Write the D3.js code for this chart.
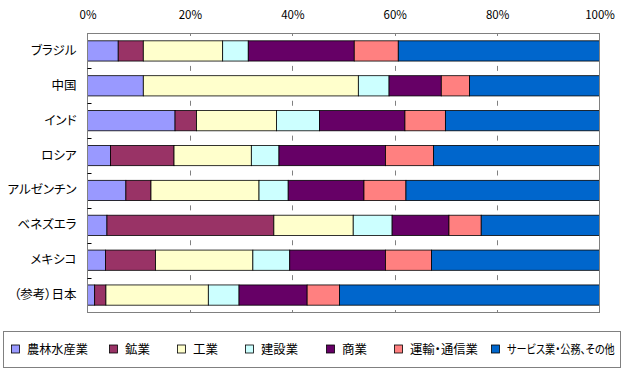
<!DOCTYPE html>
<html>
<head>
<meta charset="utf-8">
<script src="https://cdn.jsdelivr.net/npm/d3@7/dist/d3.min.js"></script>
<style>
  html, body { margin: 0; padding: 0; background: #fff; }
  svg { display: block; }
  text { font-family: "Noto Sans CJK JP", "Noto Sans", sans-serif; fill: #000; font-feature-settings: "palt" 1; }
</style>
</head>
<body>
<svg id="chart" width="624" height="372"></svg>
<script>
// ---- data ----
const categories = ["ブラジル", "中国", "インド", "ロシア", "アルゼンチン", "ベネズエラ", "メキシコ", "（参考）日本"];
const seriesNames = ["農林水産業", "鉱業", "工業", "建設業", "商業", "運輸・通信業", "サービス業・公務、その他"];
const seriesColors = ["#9999FF", "#993366", "#FFFFCC", "#CCFFFF", "#660066", "#FF8080", "#0066CC"];
const agriculture   = [6.0, 10.9, 17.1, 4.5, 7.5, 3.8, 3.5, 1.4];
const mining        = [4.9, 0.0, 4.2, 12.4, 4.9, 32.6, 9.8, 2.2];
const manufacturing = [15.5, 42.0, 15.6, 15.1, 21.1, 15.5, 19.0, 20.0];
const construction  = [5.0, 6.0, 8.4, 5.4, 5.7, 7.6, 7.2, 6.0];
const commerce      = [20.7, 10.2, 16.7, 20.8, 14.8, 11.1, 18.7, 13.3];
const transport     = [8.6, 5.5, 7.9, 9.4, 8.2, 6.3, 9.0, 6.3];
const services      = [39.3, 25.4, 30.1, 32.4, 37.8, 23.1, 32.8, 50.8];
const tickValues = [0, 0.2, 0.4, 0.6, 0.8, 1.0];

const seriesValues = [agriculture, mining, manufacturing, construction, commerce, transport, services];

// ---- layout ----
const svg = d3.select("#chart");
const plot = { left: 87.5, right: 599.5, top: 33.5, bottom: 312.5 };

const rows = categories.map((c, i) => {
  const vals = seriesValues.map(s => s[i]);
  const tot = d3.sum(vals);
  const o = { cat: c };
  seriesNames.forEach((n, k) => o[n] = vals[k] / tot);
  return o;
});
const stacked = d3.stack().keys(seriesNames)(rows);

const x = d3.scaleLinear().domain([0, 1]).range([plot.left, plot.right]);
const y = d3.scaleBand().domain(categories).range([plot.top, plot.bottom])
  .paddingInner(0.42).paddingOuter(0.21);
const color = d3.scaleOrdinal().domain(seriesNames).range(seriesColors);

// gridlines (dashed, centred on band boundaries)
const step = y.step();
svg.append("g").selectAll("line").data(tickValues.slice(1, -1)).join("line")
  .attr("x1", d => Math.round(x(d)) + 0.5).attr("x2", d => Math.round(x(d)) + 0.5)
  .attr("y1", plot.top).attr("y2", plot.bottom)
  .attr("stroke", "#808080").attr("stroke-width", 1)
  .attr("stroke-dasharray", `5,${step - 5}`)
  .attr("stroke-dashoffset", 2.5);

// bars
svg.append("g").selectAll("g").data(stacked).join("g")
  .attr("fill", d => color(d.key))
  .selectAll("rect").data(d => d).join("rect")
  .attr("x", d => x(d[0]))
  .attr("y", d => y(d.data.cat))
  .attr("width", d => Math.max(0, x(d[1]) - x(d[0])))
  .attr("height", y.bandwidth())
  .attr("stroke", "#000").attr("stroke-width", 0.8);

// plot border
svg.append("rect")
  .attr("x", plot.left).attr("y", plot.top)
  .attr("width", plot.right - plot.left).attr("height", plot.bottom - plot.top)
  .attr("fill", "none").attr("stroke", "#808080").attr("stroke-width", 1);

// left boundary ticks (inside)
const boundaries = d3.range(categories.length + 1).map(i => plot.top + i * step);
svg.append("g").selectAll("line").data(boundaries.slice(1, -1)).join("line")
  .attr("x1", plot.left).attr("x2", plot.left + 4)
  .attr("y1", d => Math.round(d) + 0.5).attr("y2", d => Math.round(d) + 0.5)
  .attr("stroke", "#000").attr("stroke-width", 1);

// top axis labels
const xAxis = d3.axisTop(x).tickValues(tickValues).tickFormat(d3.format(".0%")).tickSize(0).tickPadding(0);
const gx = svg.append("g").attr("transform", `translate(0,${plot.top - 15})`).call(xAxis);
gx.select(".domain").remove();
gx.selectAll("text").attr("font-size", 11.5).attr("font-family", "'Noto Sans CJK JP', sans-serif").attr("fill", "#000");

// category labels
const yAxis = d3.axisLeft(y).tickSize(0).tickPadding(0);
const gy = svg.append("g").attr("transform", `translate(${plot.left - 11},0)`).call(yAxis);
gy.select(".domain").remove();
gy.selectAll("text").attr("font-size", 12.5).attr("font-family", "'Noto Sans CJK JP', sans-serif").attr("fill", "#000");

// legend
const lg = svg.append("g");
lg.append("rect").attr("x", 3.5).attr("y", 331.5).attr("width", 617).attr("height", 36)
  .attr("fill", "#fff").attr("stroke", "#808080").attr("stroke-width", 1);
const legendX = [11, 109, 177, 245, 326, 394, 491];
const legendTextW = [61, 25, 25, 37, 25, 68, 108];
const items = lg.selectAll("g.item").data(seriesNames).join("g").attr("class", "item")
  .attr("transform", (d, i) => `translate(${legendX[i]},349.5)`);
items.append("rect").attr("x", 0.5).attr("y", -4.5).attr("width", 8).attr("height", 8)
  .attr("fill", d => color(d)).attr("stroke", "#000").attr("stroke-width", 0.8);
items.append("text").attr("x", 0).attr("y", 0).attr("dy", "0.35em")
  .attr("font-size", 12.5)
  .text(d => d)
  .attr("transform", function(d, i) {
    const w = this.getComputedTextLength();
    const s = w > 0 ? legendTextW[i] / w : 1;
    return `translate(16,0) scale(${s},1)`;
  });
</script>
</body>
</html>
